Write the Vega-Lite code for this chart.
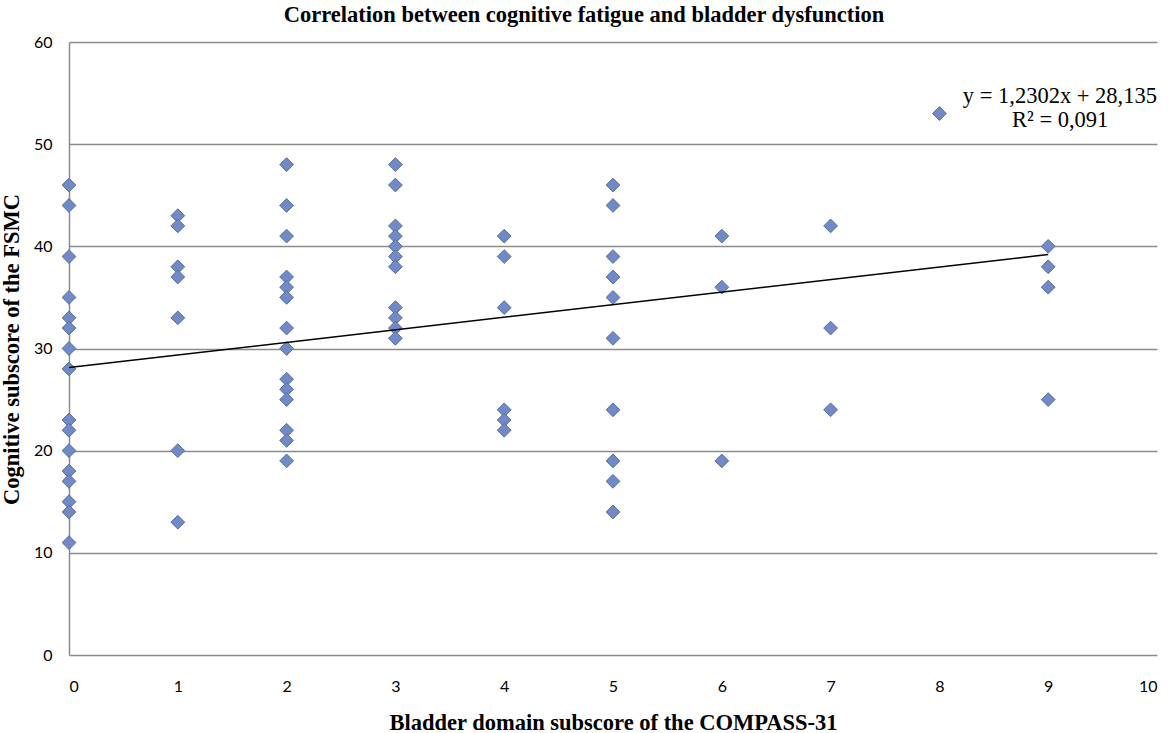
{
  "$schema": "https://vega.github.io/schema/vega-lite/v6.json",
  "width": 1088,
  "height": 613,
  "autosize": "none",
  "padding": {"left": 69, "top": 42, "right": 11, "bottom": 78},
  "background": "white",
  "config": {
    "view": {"stroke": null},
    "axis": {
      "gridColor": "#8c8c8c",
      "gridWidth": 1.5,
      "ticks": false,
      "labelFont": "Lato",
      "labelFontSize": 16,
      "labelColor": "black",
      "titleFont": "Liberation Serif",
      "titleFontSize": 22.5,
      "titleFontWeight": "bold",
      "titleColor": "black"
    }
  },
  "datasets": {
    "points": [
      {"bladder": 0, "cognitive": 46}, {"bladder": 0, "cognitive": 44}, {"bladder": 0, "cognitive": 39},
      {"bladder": 0, "cognitive": 35}, {"bladder": 0, "cognitive": 33}, {"bladder": 0, "cognitive": 32},
      {"bladder": 0, "cognitive": 30}, {"bladder": 0, "cognitive": 28}, {"bladder": 0, "cognitive": 23},
      {"bladder": 0, "cognitive": 22}, {"bladder": 0, "cognitive": 20}, {"bladder": 0, "cognitive": 18},
      {"bladder": 0, "cognitive": 17}, {"bladder": 0, "cognitive": 15}, {"bladder": 0, "cognitive": 14},
      {"bladder": 0, "cognitive": 11},
      {"bladder": 1, "cognitive": 43}, {"bladder": 1, "cognitive": 42}, {"bladder": 1, "cognitive": 38},
      {"bladder": 1, "cognitive": 37}, {"bladder": 1, "cognitive": 33}, {"bladder": 1, "cognitive": 20},
      {"bladder": 1, "cognitive": 13},
      {"bladder": 2, "cognitive": 48}, {"bladder": 2, "cognitive": 44}, {"bladder": 2, "cognitive": 41},
      {"bladder": 2, "cognitive": 37}, {"bladder": 2, "cognitive": 36}, {"bladder": 2, "cognitive": 35},
      {"bladder": 2, "cognitive": 32}, {"bladder": 2, "cognitive": 30}, {"bladder": 2, "cognitive": 27},
      {"bladder": 2, "cognitive": 26}, {"bladder": 2, "cognitive": 25}, {"bladder": 2, "cognitive": 22},
      {"bladder": 2, "cognitive": 21}, {"bladder": 2, "cognitive": 19},
      {"bladder": 3, "cognitive": 48}, {"bladder": 3, "cognitive": 46}, {"bladder": 3, "cognitive": 42},
      {"bladder": 3, "cognitive": 41}, {"bladder": 3, "cognitive": 40}, {"bladder": 3, "cognitive": 39},
      {"bladder": 3, "cognitive": 38}, {"bladder": 3, "cognitive": 34}, {"bladder": 3, "cognitive": 33},
      {"bladder": 3, "cognitive": 32}, {"bladder": 3, "cognitive": 31},
      {"bladder": 4, "cognitive": 41}, {"bladder": 4, "cognitive": 39}, {"bladder": 4, "cognitive": 34},
      {"bladder": 4, "cognitive": 24}, {"bladder": 4, "cognitive": 23}, {"bladder": 4, "cognitive": 22},
      {"bladder": 5, "cognitive": 46}, {"bladder": 5, "cognitive": 44}, {"bladder": 5, "cognitive": 39},
      {"bladder": 5, "cognitive": 37}, {"bladder": 5, "cognitive": 35}, {"bladder": 5, "cognitive": 31},
      {"bladder": 5, "cognitive": 24}, {"bladder": 5, "cognitive": 19}, {"bladder": 5, "cognitive": 17},
      {"bladder": 5, "cognitive": 14},
      {"bladder": 6, "cognitive": 41}, {"bladder": 6, "cognitive": 36}, {"bladder": 6, "cognitive": 19},
      {"bladder": 7, "cognitive": 42}, {"bladder": 7, "cognitive": 32}, {"bladder": 7, "cognitive": 24},
      {"bladder": 8, "cognitive": 53},
      {"bladder": 9, "cognitive": 40}, {"bladder": 9, "cognitive": 38}, {"bladder": 9, "cognitive": 36},
      {"bladder": 9, "cognitive": 25}
    ],
    "trend": [
      {"bladder": 0, "cognitive": 28.135},
      {"bladder": 9, "cognitive": 39.207}
    ],
    "labels": [
      {
        "title": "Correlation between cognitive fatigue and bladder dysfunction",
        "line1": "y = 1,2302x + 28,135",
        "line2": "R² = 0,091"
      }
    ]
  },
  "layer": [
    {
      "data": {"name": "points"},
      "mark": {
        "type": "point",
        "shape": "diamond",
        "filled": true,
        "size": 190,
        "fill": "#7189c4",
        "stroke": "#5b6ea6",
        "strokeWidth": 1,
        "opacity": 1
      },
      "encoding": {
        "x": {
          "field": "bladder",
          "type": "quantitative",
          "scale": {"domain": [0, 10], "nice": false},
          "axis": {
            "values": [0, 1, 2, 3, 4, 5, 6, 7, 8, 9, 10],
            "format": "d",
            "grid": false,
            "domain": false,
            "labelPadding": 23,
            "title": "Bladder domain subscore of the COMPASS-31",
            "titleX": 544,
            "titleY": 74,
            "titleBaseline": "alphabetic"
          }
        },
        "y": {
          "field": "cognitive",
          "type": "quantitative",
          "scale": {"domain": [0, 60], "nice": false},
          "axis": {
            "values": [0, 10, 20, 30, 40, 50, 60],
            "format": "d",
            "domainColor": "#8c8c8c",
            "domainWidth": 1.5,
            "labelPadding": 17,
            "title": "Cognitive subscore of the FSMC",
            "titleX": -51,
            "titleY": 307,
            "titleBaseline": "alphabetic"
          }
        }
      }
    },
    {
      "data": {"name": "trend"},
      "mark": {"type": "line", "color": "black", "strokeWidth": 1.5},
      "encoding": {
        "x": {"field": "bladder", "type": "quantitative"},
        "y": {"field": "cognitive", "type": "quantitative"}
      }
    },
    {
      "data": {"name": "labels"},
      "mark": {
        "type": "text",
        "align": "center",
        "baseline": "alphabetic",
        "font": "Liberation Serif",
        "fontSize": 22.5,
        "fontWeight": "bold",
        "color": "black"
      },
      "encoding": {
        "x": {"datum": 4.733, "type": "quantitative"},
        "y": {"datum": 61.94, "type": "quantitative"},
        "text": {"field": "title"}
      }
    },
    {
      "data": {"name": "labels"},
      "mark": {
        "type": "text",
        "align": "right",
        "baseline": "alphabetic",
        "font": "Liberation Serif",
        "fontSize": 22.5,
        "color": "black"
      },
      "encoding": {
        "x": {"datum": 10, "type": "quantitative"},
        "y": {"datum": 54.0, "type": "quantitative"},
        "text": {"field": "line1"}
      }
    },
    {
      "data": {"name": "labels"},
      "mark": {
        "type": "text",
        "align": "center",
        "baseline": "alphabetic",
        "font": "Liberation Serif",
        "fontSize": 22.5,
        "color": "black"
      },
      "encoding": {
        "x": {"datum": 9.11, "type": "quantitative"},
        "y": {"datum": 51.7, "type": "quantitative"},
        "text": {"field": "line2"}
      }
    }
  ]
}
